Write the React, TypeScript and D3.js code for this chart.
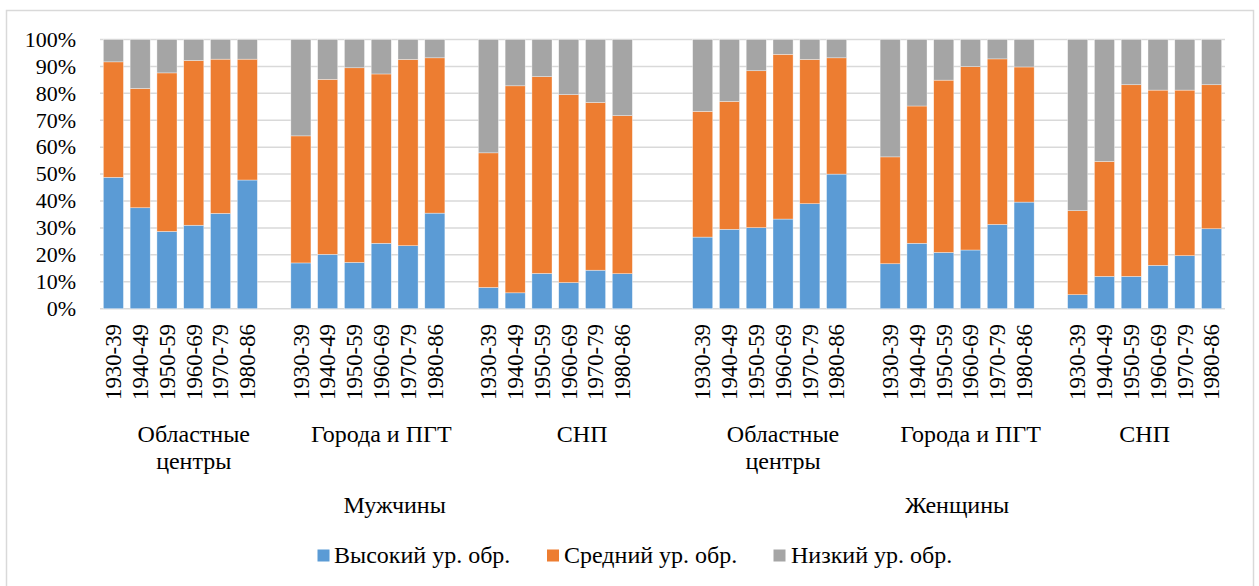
import React from "react";
import * as d3 from "d3";

const sexes = ["Мужчины", "Женщины"];
const places = ["Областные центры", "Города и ПГТ", "СНП"];
const periods = ["1930-39", "1940-49", "1950-59", "1960-69", "1970-79", "1980-86"];
const seriesNames = ["Высокий ур. обр.", "Средний ур. обр.", "Низкий ур. обр."];
const seriesColors = ["#5b9bd5", "#ed7d31", "#a5a5a5"];
const yTicks = [0, 10, 20, 30, 40, 50, 60, 70, 80, 90, 100];

// order: Мужчины (Обл, Города, СНП), Женщины (Обл, Города, СНП); 6 periods each
const highValues = [
  48.8, 37.5, 28.7, 31.0, 35.4, 47.8,
  17.0, 20.2, 17.2, 24.3, 23.4, 35.5,
  7.9, 5.9, 13.1, 9.7, 14.3, 13.0,
  26.6, 29.5, 30.1, 33.3, 39.0, 50.0,
  16.7, 24.3, 20.9, 21.8, 31.3, 39.6,
  5.2, 12.0, 12.0, 16.1, 19.7, 29.7,
];
const midValues = [
  42.9, 44.3, 58.9, 61.2, 57.3, 44.9,
  47.2, 65.0, 72.3, 62.9, 69.2, 57.7,
  50.0, 76.9, 73.1, 69.8, 62.3, 58.7,
  46.7, 47.5, 58.3, 61.2, 53.6, 43.2,
  39.7, 51.0, 64.0, 68.1, 61.5, 50.2,
  31.2, 42.7, 71.2, 65.1, 61.5, 53.5,
];
const lowValues = [
  8.3, 18.2, 12.4, 7.8, 7.3, 7.3,
  35.8, 14.8, 10.5, 12.8, 7.4, 6.8,
  42.1, 17.2, 13.8, 20.5, 23.4, 28.3,
  26.7, 23.0, 11.6, 5.5, 7.4, 6.8,
  43.6, 24.7, 15.1, 10.1, 7.2, 10.2,
  63.6, 45.3, 16.8, 18.8, 18.8, 16.8,
];
// empty category slots that follow each place group
const blanksAfter = [1, 1, 2, 1, 1, 0];

const W = 1259;
const H = 586;
const FONT = "'Liberation Serif', 'Times New Roman', serif";
const FS_NUM = 22;
const FS_PERIOD = 22.8;
const FS_TEXT = 24;

type Slot = { key: string; sex: number; place: number; period: number | null; idx: number | null };

export default function App() {
  const slots: Slot[] = [];
  let dataIdx = 0;
  sexes.forEach((_, s) => {
    places.forEach((_, p) => {
      const g = s * places.length + p;
      periods.forEach((_, k) => {
        slots.push({ key: `s${slots.length}`, sex: s, place: p, period: k, idx: dataIdx++ });
      });
      for (let b = 0; b < blanksAfter[g]; b++) {
        slots.push({ key: `s${slots.length}`, sex: s, place: p, period: null, idx: null });
      }
    });
  });

  const rows = highValues.map((h, i) => ({ high: h, mid: midValues[i], low: lowValues[i] }));
  const stack = d3.stack<any>().keys(["high", "mid", "low"]);
  const stacked = stack(rows);

  const x = d3
    .scaleBand<string>()
    .domain(slots.map((s) => s.key))
    .range([100, 1225])
    .paddingInner(0.25)
    .paddingOuter(0.125);
  const step = x.step();
  const y = d3.scaleLinear().domain([0, 100]).range([308.7, 39.5]);

  const slotCenter = (s: Slot) => (x(s.key) as number) + x.bandwidth() / 2;
  const spanCenter = (list: Slot[]) => {
    const first = x(list[0].key) as number;
    const last = x(list[list.length - 1].key) as number;
    return (first - (x.paddingInner() * step) / 2 + last + x.bandwidth() + (x.paddingInner() * step) / 2) / 2;
  };

  const wrap = (label: string) => {
    if (label.length > 12 && label.includes(" ")) {
      const i = label.indexOf(" ");
      return [label.slice(0, i), label.slice(i + 1)];
    }
    return [label];
  };

  const legendItems = [
    { x: 317.5, tx: 334 },
    { x: 547, tx: 564 },
    { x: 773.5, tx: 791 },
  ];

  return (
    <svg
      width={W}
      height={H}
      style={{ position: "absolute", left: 0, top: 0, background: "#fff" }}
      fontFamily={FONT}
    >
      <rect x={0} y={0} width={W} height={H} fill="#fff" />
      <rect x={6.5} y={10.5} width={1247} height={600} fill="none" stroke="#d9d9d9" strokeWidth={1.5} />

      {/* gridlines */}
      {yTicks.map((t) => (
        <line key={t} x1={100} x2={1225} y1={y(t)} y2={y(t)} stroke="#d9d9d9" strokeWidth={1.5} />
      ))}
      {/* y labels */}
      {yTicks.map((t) => (
        <text key={t} x={76} y={y(t)} dy="0.33em" textAnchor="end" fontSize={FS_NUM} fill="#000">
          {`${t}%`}
        </text>
      ))}

      {/* bars */}
      {stacked.map((layer, li) => (
        <g key={li} fill={seriesColors[li]}>
          {slots
            .filter((s) => s.idx !== null)
            .map((s) => {
              const d = layer[s.idx as number];
              return (
                <rect
                  key={s.key}
                  x={x(s.key)}
                  width={x.bandwidth()}
                  y={y(d[1])}
                  height={y(d[0]) - y(d[1])}
                  stroke="#fff"
                  strokeOpacity={0.6}
                  strokeWidth={0.6}
                />
              );
            })}
        </g>
      ))}

      {/* period labels */}
      {slots
        .filter((s) => s.period !== null)
        .map((s) => (
          <text
            key={s.key}
            transform={`translate(${slotCenter(s)},324) rotate(-90)`}
            textAnchor="end"
            dy="0.34em"
            fontSize={FS_PERIOD}
            fill="#000"
          >
            {periods[s.period as number]}
          </text>
        ))}

      {/* place labels */}
      {sexes.map((_, si) =>
        places.map((pl, pi) => {
          const list = slots.filter((s) => s.sex === si && s.place === pi);
          const cx = spanCenter(list);
          const lines = wrap(pl);
          return (
            <text key={`${si}-${pi}`} x={cx} y={442} textAnchor="middle" fontSize={FS_TEXT} fill="#000">
              {lines.map((ln, i) => (
                <tspan key={i} x={cx} dy={i === 0 ? 0 : 27}>
                  {ln}
                </tspan>
              ))}
            </text>
          );
        })
      )}

      {/* sex labels */}
      {sexes.map((sx, si) => {
        const list = slots.filter((s) => s.sex === si);
        return (
          <text key={sx} x={spanCenter(list)} y={513} textAnchor="middle" fontSize={FS_TEXT} fill="#000">
            {sx}
          </text>
        );
      })}

      {/* legend */}
      {seriesNames.map((name, i) => (
        <g key={name}>
          <rect x={legendItems[i].x} y={549.5} width={12} height={12} fill={seriesColors[i]} />
          <text x={legendItems[i].tx} y={563} fontSize={FS_TEXT} fill="#000">
            {name}
          </text>
        </g>
      ))}
    </svg>
  );
}
